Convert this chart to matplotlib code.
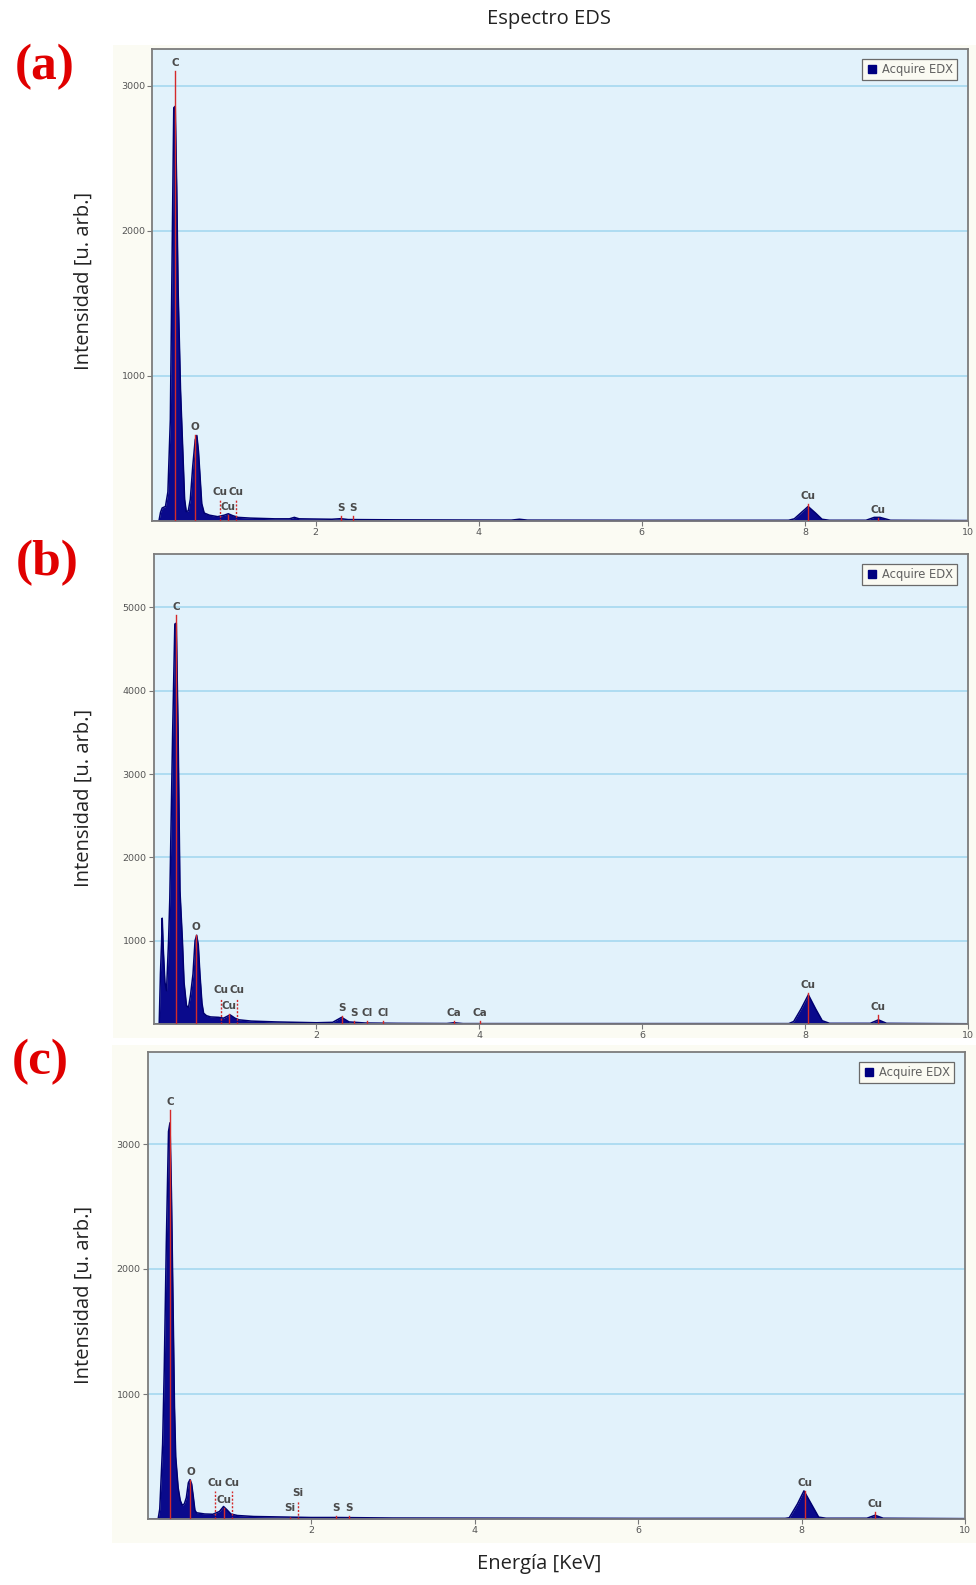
import matplotlib
matplotlib.use("Agg")
import matplotlib.pyplot as plt
from matplotlib.patches import Rectangle
from matplotlib.lines import Line2D

# ---------------- data ----------------
energy_a = [0.00, 0.08, 0.10, 0.12, 0.16, 0.19, 0.22, 0.245, 0.262, 0.28, 0.298, 0.315, 0.345, 0.375,
            0.395, 0.415, 0.44, 0.465, 0.495, 0.525, 0.545, 0.565, 0.585, 0.605, 0.635, 0.70, 0.80, 0.88,
            0.93, 0.98, 1.05, 1.20, 1.50, 1.68, 1.74, 1.80, 2.20, 2.31, 2.40, 3.00, 4.40, 4.50,
            4.60, 6.00, 7.80, 7.87, 7.95, 8.04, 8.13, 8.21, 8.30, 8.75, 8.85, 8.92, 9.05, 10.0]
counts_a = [0, 0, 60, 90, 100, 200, 700, 2000, 2850, 2860, 2300, 1600, 900, 450,
            150, 65, 70, 150, 380, 560, 590, 480, 300, 120, 55, 40, 30, 40,
            50, 38, 25, 20, 15, 15, 25, 15, 12, 16, 10, 8, 6, 12,
            6, 5, 5, 15, 55, 100, 55, 12, 5, 5, 25, 25, 5, 3]

energy_b = [0.00, 0.07, 0.085, 0.10, 0.107, 0.12, 0.14, 0.16, 0.185, 0.20, 0.235, 0.262, 0.28, 0.302,
            0.325, 0.355, 0.375, 0.405, 0.43, 0.455, 0.485, 0.51, 0.53, 0.55, 0.57, 0.595, 0.615, 0.65,
            0.70, 0.80, 0.86, 0.94, 1.00, 1.05, 1.20, 1.50, 2.00, 2.20, 2.31, 2.40, 2.60, 3.00,
            3.60, 3.69, 3.80, 6.00, 7.80, 7.86, 7.95, 8.04, 8.13, 8.21, 8.30, 8.80, 8.90, 9.00, 10.0]
counts_b = [0, 0, 600, 1000, 1270, 900, 500, 400, 1000, 1500, 3500, 4800, 4810, 3500,
            1600, 1000, 500, 220, 200, 350, 600, 1000, 1065, 950, 600, 250, 130, 100,
            85, 80, 70, 110, 70, 50, 35, 25, 15, 20, 80, 25, 12, 8,
            6, 15, 5, 5, 5, 30, 180, 350, 180, 40, 8, 8, 50, 8, 3]

energy_c = [0.00, 0.13, 0.15, 0.165, 0.185, 0.205, 0.23, 0.257, 0.275, 0.293, 0.315, 0.33, 0.345, 0.375,
            0.40, 0.425, 0.45, 0.475, 0.50, 0.52, 0.54, 0.56, 0.58, 0.60, 0.70, 0.80, 0.88,
            0.93, 0.97, 1.02, 1.10, 1.30, 1.74, 2.00, 2.31, 3.00, 6.00, 7.80, 7.85, 7.95, 8.03,
            8.12, 8.21, 8.30, 8.80, 8.90, 9.00, 10.0]
counts_c = [0, 0, 80, 300, 600, 1200, 2200, 3100, 3170, 2600, 1600, 900, 500, 250,
            150, 110, 120, 170, 290, 315, 280, 180, 70, 50, 40, 38, 60,
            100, 75, 40, 28, 20, 15, 12, 12, 8, 5, 5, 10, 120, 225,
            120, 15, 6, 6, 30, 6, 3]

# element markers: label, energy, marker height, dashed?
marks_a_lbl = ["C", "O", "Cu", "Cu", "Cu", "S", "S", "Cu", "Cu"]
marks_a_E = [0.277, 0.525, 0.93, 0.83, 1.03, 2.31, 2.46, 8.04, 8.90]
marks_a_h = [3100, 590, 42, 147, 147, 32, 32, 119, 21]
marks_a_dash = [False, False, False, True, True, False, False, False, False]

marks_b_lbl = ["C", "O", "Cu", "Cu", "Cu", "S", "S", "Cl", "Cl", "Ca", "Ca", "Cu", "Cu"]
marks_b_E = [0.277, 0.525, 0.93, 0.83, 1.03, 2.31, 2.46, 2.62, 2.82, 3.69, 4.01, 8.04, 8.90]
marks_b_h = [4910, 1068, 120, 312, 312, 96, 36, 36, 36, 36, 36, 372, 103]
marks_b_dash = [False, False, False, True, True, False, False, False, False, False, False, False, False]

marks_c_lbl = ["C", "O", "Cu", "Cu", "Cu", "Si", "Si", "S", "S", "Cu", "Cu"]
marks_c_E = [0.277, 0.525, 0.93, 0.83, 1.03, 1.74, 1.84, 2.31, 2.46, 8.04, 8.90]
marks_c_h = [3274, 314, 88, 224, 224, 24, 146, 24, 24, 225, 56]
marks_c_dash = [False, False, False, True, True, True, True, False, False, False, False]

yticks_a = [1000, 2000, 3000]
yticks_b = [1000, 2000, 3000, 4000, 5000]
yticks_c = [1000, 2000, 3000]
xticks = [2, 4, 6, 8, 10]
ymax = [3255, 5640, 3736]
panel_letters = ["(a)", "(b)", "(c)"]
legend_label = "Acquire EDX"

# ---------------- figure ----------------
W, H = 976, 1585
fig = plt.figure(figsize=(W / 100, H / 100), dpi=100)
fig.patch.set_facecolor("white")


def rect(l, r, t, b):
    return [l / W, 1 - b / H, (r - l) / W, (b - t) / H]


# cream image backgrounds
for (t, b, l) in [(45, 538, 113), (538, 1038, 113), (1045, 1543, 112)]:
    fig.patches.append(Rectangle((l / W, 1 - b / H), (976 - l) / W, (b - t) / H,
                                 transform=fig.transFigure, facecolor="#FBFBF3",
                                 edgecolor="none", zorder=-5))

boxes = [(152.4, 968, 49, 521), (153.5, 968, 554, 1024), (147.5, 965, 1052, 1519)]
spectra = [(energy_a, counts_a), (energy_b, counts_b), (energy_c, counts_c)]
marks = [(marks_a_lbl, marks_a_E, marks_a_h, marks_a_dash),
         (marks_b_lbl, marks_b_E, marks_b_h, marks_b_dash),
         (marks_c_lbl, marks_c_E, marks_c_h, marks_c_dash)]
yticks_all = [yticks_a, yticks_b, yticks_c]
ylab_y = [281, 798, 1295]
letter_pos = [(44.5, 67), (47.5, 563), (40.5, 1062)]

for i in range(3):
    l, r, t, b = boxes[i]
    ax = fig.add_axes(rect(l, r, t, b))
    ax.set_facecolor("#E2F2FB")
    ax.set_xlim(0, 10)
    ax.set_ylim(0, ymax[i])
    ax.set_axisbelow(True)
    ax.yaxis.grid(True, color="#AADAF0", lw=1.3)
    E, C = spectra[i]
    ax.fill_between(E, C, 0, color="#0A0A8C", lw=0, zorder=2)
    ax.plot(E, C, color="#000070", lw=1.1, zorder=2)
    lbl, mE, mh, md = marks[i]
    for k in range(len(lbl)):
        ax.plot([mE[k], mE[k]], [0, mh[k]], color="#D42A2A",
                lw=1.0, ls=(0, (1.5, 1.2)) if md[k] else "-", zorder=3)
        ax.annotate(lbl[k], xy=(mE[k], mh[k]), xytext=(0, 5.8),
                    textcoords="offset points", ha="center", va="center",
                    fontsize=7.5, fontweight="bold", color="#4A4A4A", zorder=4)
    ax.set_yticks(yticks_all[i])
    ax.set_yticklabels([str(v) for v in yticks_all[i]])
    ax.set_xticks(xticks)
    ax.set_xticklabels([str(v) for v in xticks])
    ax.tick_params(axis="both", direction="out", length=3.5, width=0.8, color="#777777",
                   labelsize=6.8, labelcolor="#555555", pad=1.5)
    for s in ax.spines.values():
        s.set_color("#7C7C7C")
        s.set_linewidth(1.3)
    axw, axh = r - l, b - t
    h = Line2D([], [], marker="s", ls="none", color="#000080", markersize=5.5)
    leg = ax.legend([h], [legend_label], loc="upper right",
                    bbox_to_anchor=(1 - 11 / axw, 1 - 10 / axh), borderaxespad=0,
                    fontsize=8.3, frameon=True, fancybox=False, framealpha=1,
                    borderpad=0.35, handletextpad=0.35, handlelength=1.0)
    leg.get_frame().set_edgecolor("#6A6A6A")
    leg.get_frame().set_facecolor("#FAFAF2")
    leg.get_frame().set_linewidth(0.9)
    for tx in leg.get_texts():
        tx.set_color("#606060")
    fig.text(84 / W, 1 - ylab_y[i] / H, "Intensidad [u. arb.]", rotation=90,
             ha="center", va="center", fontsize=14.5, family="Open Sans", color="#222222")
    fig.text(letter_pos[i][0] / W, 1 - letter_pos[i][1] / H, panel_letters[i],
             ha="center", va="center", fontsize=37, family="Liberation Serif",
             fontweight="bold", color="#E00000")

fig.text(549 / W, 1 - 19 / H, "Espectro EDS", ha="center", va="center",
         fontsize=14.5, family="Open Sans", color="#222222")
fig.text(539 / W, 1 - 1564 / H, "Energía [KeV]", ha="center", va="center",
         fontsize=14.5, family="Open Sans", color="#222222")

fig.savefig("out.png", dpi=100, facecolor="white")
